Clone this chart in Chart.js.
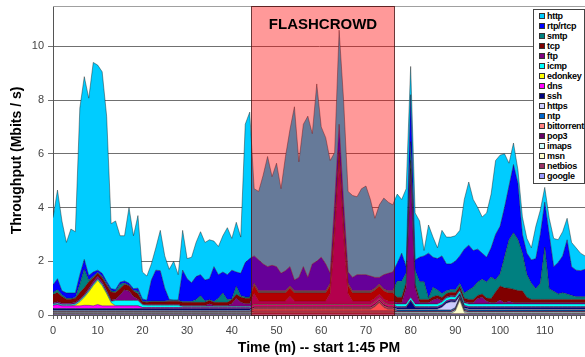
<!DOCTYPE html>
<html>
<head>
<meta charset="utf-8">
<title>Throughput by protocol</title>
<script src="https://cdn.jsdelivr.net/npm/chart.js@4.4.1/dist/chart.umd.min.js"></script>
<style>
  html, body { margin: 0; padding: 0; background: #fff; }
  #wrap { position: relative; width: 585px; height: 357px; overflow: hidden; }
  #legend {
    position: absolute; left: 533px; top: 9px; width: 50px;
    border: 1px solid #444; background: #fff; padding: 1px 0 2px 0;
    font: bold 9px "Liberation Sans", Arial, sans-serif; color: #000;
    letter-spacing: -0.3px;
  }
  #legend div { height: 10px; line-height: 10px; white-space: nowrap; padding-left: 5px; }
  #legend span {
    display: inline-block; width: 4px; height: 4px; border: 1px solid #333;
    margin-right: 2px; vertical-align: 0;
  }
</style>
</head>
<body>
<div id="wrap">
  <canvas id="chart" width="585" height="357"></canvas>
  <div id="legend"></div>
</div>
<script>
// minutes since 1:45 PM
const minutes = Array.from({ length: 120 }, (_, i) => i);
const xTickLabels = [0, 10, 20, 30, 40, 50, 60, 70, 80, 90, 100, 110];
const yTickLabels = [0, 2, 4, 6, 8, 10];
const flashcrowd = [44.4, 76.4];

const seriesNames = ['http', 'rtp/rtcp', 'smtp', 'tcp', 'ftp', 'icmp', 'edonkey', 'dns', 'ssh',
  'https', 'ntp', 'bittorrent', 'pop3', 'imaps', 'msn', 'netbios', 'google'];
const seriesColors = ['#00CCFF', '#0000FF', '#008080', '#800000', '#800080', '#00FFFF', '#FFFF00',
  '#FF00FF', '#000080', '#CCCCFF', '#0066CC', '#FF8080', '#660066', '#CCFFFF', '#FFFFCC', '#993366', '#9999FF'];

// Mbits/s per protocol, one value per minute
const http = [
  2.5, 3.3, 2.6, 1.88, 2.38, 2.28, 6.2, 6.8, 6.6, 7.8,
  7.63, 7.5, 6.15, 2.42, 2.55, 1.73, 1.68, 2.82, 1.97, 2.7,
  1.0, 0.9, 0.6, 0.83, 1.5, 1.2, 1.12, 1.44, 0.94, 1.48,
  0.75, 0.95, 1.27, 1.6, 1.4, 1.45, 0.95, 1.05, 1.35, 1.75,
  1.18, 1.85, 1.35, 5.15, 5.45, 2.5, 2.55, 3.3, 4.1, 3.3,
  3.85, 3.15, 4.25, 5.1, 6.45, 4.3, 5.3, 6.0, 4.85, 6.6,
  4.85, 4.7, 4.2, 1.85, 3.5, 3.8, 3.0, 3.05, 2.9, 3.2,
  3.3, 2.85, 2.2, 2.7, 2.85, 2.65, 2.5, 2.57, 2.0, 2.9,
  1.05, 1.75, 1.35, 0.2, 1.05, 0.75, 0.4, 0.95, 1.0, 1.0,
  0.95, 0.95, 1.85, 2.35, 1.9, 1.55, 1.35, 1.65, 2.0, 2.75,
  2.65, 2.0, 0.85, 0.8, 0.5, 0.65, 0.55, 0.45, 1.2, 0.9,
  0.55, 0.6, 1.05, 0.85, 0.9, 0.8, 0.9, 0.83, 0.65, 0.5
];
const rtp = [
  0.28, 0.41, 0.15, 0.2, 0.2, 0.17, 0.36, 0.36, 0.18, 0.16,
  0.08, 0.11, 0.08, 0.08, 0.07, 0.08, 0.08, 0.07, 0.07, 0.11,
  0.08, 0.05, 0.78, 1.15, 1.13, 0.48, 0.04, 0.02, 0.02, 1.17,
  0.85, 0.7, 0.86, 0.78, 0.78, 0.78, 1.3, 0.88, 0.78, 0.93,
  1.07, 0.53, 0.83, 1.28, 1.43, 1.02, 1.15, 1.0, 0.9, 0.95,
  0.9, 0.65, 0.75, 0.72, 0.4, 0.5, 0.9, 0.5, 1.0, 1.1,
  1.25, 1.0, 0.37, 0.82, 0.97, 0.82, 0.42, 0.5, 0.6, 0.6,
  0.6, 0.55, 0.4, 0.25, 0.53, 0.65, 0.7, 0.67, 1.04, 0.24,
  1.75, 0.39, 0.91, 0.96, 1.67, 1.12, 1.17, 1.4, 1.0, 0.95,
  1.06, 1.03, 1.63, 1.67, 1.37, 1.22, 0.97, 0.92, 1.09, 1.69,
  1.77, 1.84, 2.0, 2.54, 2.09, 0.7, 0.79, 0.87, 1.12, 1.82,
  1.67, 2.02, 0.92, 1.17, 1.37, 2.02, 1.07, 0.99, 0.97, 1.02
];
const smtp = [
  0.08, 0.1, 0.06, 0.03, 0.03, 0.03, 0.3, 0.7, 0.05, 0.05,
  0.03, 0.05, 0.05, 0.04, 0.04, 0.15, 0.05, 0.02, 0.02, 0.1,
  0.03, 0.03, 0.03, 0.03, 0.03, 0.03, 0.03, 0.03, 0.03, 0.03,
  0.03, 0.03, 0.1, 0.25, 0.05, 0.03, 0.03, 0.15, 0.35, 0.1,
  0.03, 0.3, 0.05, 0.05, 0.05, 0.08, 0.08, 0.08, 0.08, 0.08,
  0.08, 0.08, 0.08, 0.08, 0.08, 0.08, 0.08, 0.08, 0.08, 0.08,
  0.08, 0.08, 0.08, 0.08, 0.08, 0.08, 0.08, 0.08, 0.08, 0.08,
  0.08, 0.08, 0.08, 0.08, 0.08, 0.08, 0.08, 0.6, 0.6, 0.35,
  0.7, 0.5, 0.66, 0.66, 0.05, 0.35, 0.2, 0.15, 0.1, 0.1,
  0.1, 0.1, 0.2, 0.35, 0.45, 0.5, 0.55, 0.6, 0.8, 0.45,
  0.45, 1.15, 1.8, 2.1, 1.9, 1.4, 0.85, 0.6, 0.4, 0.6,
  1.95, 0.4, 0.3, 0.2, 0.25, 0.2, 0.15, 0.1, 0.1, 0.1
];
const tcp = [
  0.3, 0.35, 0.25, 0.15, 0.15, 0.15, 0.25, 0.25, 0.25, 0.15,
  0.12, 0.15, 0.2, 0.3, 0.25, 0.25, 0.2, 0.2, 0.2, 0.2,
  0.08, 0.08, 0.1, 0.1, 0.1, 0.1, 0.12, 0.12, 0.12, 0.12,
  0.12, 0.12, 0.12, 0.12, 0.12, 0.12, 0.12, 0.12, 0.12, 0.12,
  0.15, 0.15, 0.2, 0.2, 0.2, 0.3, 0.3, 0.3, 0.3, 0.3,
  0.3, 0.3, 0.3, 0.3, 0.3, 0.3, 0.3, 0.3, 0.3, 0.3,
  0.3, 0.3, 0.3, 0.3, 0.3, 0.3, 0.3, 0.3, 0.3, 0.3,
  0.3, 0.3, 0.3, 0.3, 0.3, 0.3, 0.3, 0.2, 0.2, 0.2,
  0.3, 0.15, 0.12, 0.12, 0.12, 0.12, 0.12, 0.12, 0.12, 0.12,
  0.12, 0.12, 0.12, 0.12, 0.12, 0.12, 0.12, 0.12, 0.15, 0.4,
  0.52, 0.55, 0.49, 0.5, 0.45, 0.44, 0.2, 0.12, 0.12, 0.12,
  0.12, 0.12, 0.12, 0.12, 0.12, 0.12, 0.12, 0.12, 0.12, 0.12
];
const ftp = [
  0.05, 0.05, 0.05, 0.05, 0.05, 0.05, 0.05, 0.05, 0.08, 0.1,
  0.1, 0.1, 0.08, 0.05, 0.05, 0.2, 0.4, 0.35, 0.15, 0.05,
  0.03, 0.03, 0.03, 0.03, 0.03, 0.03, 0.03, 0.03, 0.03, 0.03,
  0.03, 0.03, 0.03, 0.03, 0.03, 0.1, 0.03, 0.03, 0.03, 0.03,
  0.1, 0.3, 0.15, 0.1, 0.1, 0.4, 0.12, 0.12, 0.12, 0.12,
  0.12, 0.12, 0.12, 0.3, 0.12, 0.12, 0.12, 0.12, 0.12, 0.12,
  0.12, 0.12, 0.4, 2.6, 5.35, 2.6, 0.4, 0.12, 0.12, 0.12,
  0.12, 0.12, 0.12, 0.12, 0.12, 0.12, 0.12, 0.05, 0.05, 0.6,
  4.8, 0.6, 0.05, 0.05, 0.05, 0.15, 0.2, 0.05, 0.05, 0.05,
  0.05, 0.05, 0.05, 0.05, 0.05, 0.2, 0.25, 0.1, 0.05, 0.05,
  0.15, 0.05, 0.1, 0.05, 0.05, 0.05, 0.05, 0.05, 0.05, 0.05,
  0.05, 0.05, 0.05, 0.05, 0.05, 0.05, 0.05, 0.05, 0.05, 0.05
];
const icmp = [
  0.05, 0.05, 0.05, 0.05, 0.05, 0.05, 0.05, 0.05, 0.05, 0.05,
  0.05, 0.05, 0.05, 0.05, 0.2, 0.2, 0.2, 0.2, 0.2, 0.2,
  0.1, 0.08, 0.08, 0.08, 0.08, 0.08, 0.08, 0.08, 0.08, 0.04,
  0.04, 0.04, 0.04, 0.04, 0.04, 0.04, 0.04, 0.04, 0.04, 0.04,
  0.04, 0.04, 0.04, 0.04, 0.04, 0.03, 0.03, 0.03, 0.03, 0.03,
  0.03, 0.03, 0.03, 0.03, 0.03, 0.03, 0.03, 0.03, 0.03, 0.03,
  0.03, 0.03, 0.03, 0.03, 0.03, 0.03, 0.03, 0.03, 0.03, 0.03,
  0.03, 0.03, 0.03, 0.03, 0.03, 0.03, 0.03, 0.1, 0.1, 0.1,
  0.1, 0.1, 0.1, 0.1, 0.1, 0.1, 0.1, 0.1, 0.1, 0.1,
  0.1, 0.1, 0.1, 0.1, 0.1, 0.1, 0.1, 0.1, 0.1, 0.1,
  0.1, 0.1, 0.1, 0.1, 0.1, 0.1, 0.1, 0.1, 0.1, 0.1,
  0.1, 0.1, 0.1, 0.1, 0.1, 0.1, 0.1, 0.1, 0.1, 0.1
];
const edonkey = [
  0, 0, 0, 0, 0, 0.03, 0.15, 0.3, 0.5, 0.75,
  0.9, 0.75, 0.45, 0.12, 0, 0, 0, 0, 0, 0,
  0, 0, 0, 0, 0, 0, 0, 0, 0, 0,
  0, 0, 0, 0, 0, 0, 0, 0, 0, 0,
  0, 0, 0, 0, 0, 0, 0, 0, 0, 0,
  0, 0, 0, 0, 0, 0, 0, 0, 0, 0,
  0, 0, 0, 0, 0, 0, 0, 0, 0, 0,
  0, 0, 0, 0, 0, 0, 0, 0, 0, 0,
  0, 0, 0, 0, 0, 0, 0, 0, 0, 0,
  0, 0, 0, 0, 0, 0, 0, 0, 0, 0,
  0, 0, 0, 0, 0, 0, 0, 0, 0, 0,
  0, 0, 0, 0, 0, 0, 0, 0, 0, 0
];
const dns = [
  0.12, 0.15, 0.1, 0.1, 0.1, 0.1, 0.1, 0.12, 0.12, 0.1,
  0.15, 0.1, 0.1, 0.1, 0.1, 0.1, 0.1, 0.1, 0.1, 0.1,
  0.04, 0.04, 0.04, 0.04, 0.04, 0.04, 0.04, 0.04, 0.04, 0.04,
  0.04, 0.04, 0.04, 0.04, 0.04, 0.04, 0.04, 0.04, 0.04, 0.04,
  0.04, 0.04, 0.04, 0.04, 0.04, 0.05, 0.05, 0.05, 0.05, 0.05,
  0.05, 0.05, 0.05, 0.05, 0.05, 0.05, 0.05, 0.05, 0.05, 0.05,
  0.05, 0.05, 0.05, 0.05, 0.05, 0.05, 0.05, 0.05, 0.05, 0.05,
  0.05, 0.05, 0.05, 0.05, 0.05, 0.05, 0.05, 0.03, 0.03, 0.03,
  0.03, 0.03, 0.03, 0.03, 0.03, 0.03, 0.03, 0.03, 0.03, 0.03,
  0.03, 0.03, 0.03, 0.03, 0.03, 0.03, 0.03, 0.03, 0.03, 0.03,
  0.03, 0.03, 0.03, 0.03, 0.03, 0.03, 0.03, 0.03, 0.03, 0.03,
  0.03, 0.03, 0.03, 0.03, 0.03, 0.03, 0.03, 0.03, 0.03, 0.03
];
const ssh = [
  0.05, 0.05, 0.05, 0.05, 0.05, 0.05, 0.05, 0.05, 0.05, 0.05,
  0.05, 0.05, 0.05, 0.05, 0.05, 0.05, 0.05, 0.05, 0.05, 0.05,
  0.05, 0.05, 0.05, 0.05, 0.05, 0.05, 0.05, 0.05, 0.05, 0.05,
  0.05, 0.05, 0.05, 0.05, 0.05, 0.05, 0.05, 0.05, 0.05, 0.05,
  0.05, 0.05, 0.05, 0.05, 0.05, 0.05, 0.05, 0.05, 0.05, 0.05,
  0.05, 0.05, 0.05, 0.05, 0.05, 0.05, 0.05, 0.05, 0.05, 0.05,
  0.05, 0.05, 0.05, 0.05, 0.05, 0.05, 0.05, 0.05, 0.05, 0.05,
  0.05, 0.05, 0.05, 0.05, 0.05, 0.05, 0.05, 0.06, 0.06, 0.06,
  0.3, 0.06, 0.06, 0.06, 0.06, 0.06, 0.06, 0.06, 0.06, 0.06,
  0.06, 0.06, 0.06, 0.06, 0.06, 0.06, 0.06, 0.06, 0.06, 0.06,
  0.06, 0.06, 0.06, 0.06, 0.06, 0.06, 0.06, 0.06, 0.06, 0.06,
  0.06, 0.06, 0.06, 0.06, 0.06, 0.06, 0.06, 0.06, 0.06, 0.06
];
const https = [
  0.03, 0.03, 0.03, 0.03, 0.03, 0.03, 0.03, 0.03, 0.03, 0.03,
  0.03, 0.03, 0.03, 0.03, 0.03, 0.03, 0.03, 0.03, 0.03, 0.03,
  0.03, 0.03, 0.03, 0.03, 0.03, 0.03, 0.03, 0.03, 0.03, 0.03,
  0.03, 0.03, 0.03, 0.03, 0.03, 0.03, 0.03, 0.03, 0.03, 0.03,
  0.03, 0.03, 0.03, 0.03, 0.03, 0.03, 0.03, 0.03, 0.03, 0.03,
  0.03, 0.03, 0.03, 0.03, 0.03, 0.03, 0.03, 0.03, 0.03, 0.03,
  0.03, 0.03, 0.03, 0.03, 0.03, 0.03, 0.03, 0.03, 0.03, 0.03,
  0.03, 0.03, 0.03, 0.03, 0.03, 0.03, 0.03, 0.03, 0.03, 0.03,
  0.03, 0.03, 0.03, 0.03, 0.03, 0.03, 0.03, 0.1, 0.25, 0.3,
  0.2, 0.03, 0.03, 0.03, 0.03, 0.03, 0.03, 0.03, 0.03, 0.03,
  0.03, 0.03, 0.03, 0.03, 0.03, 0.03, 0.03, 0.03, 0.03, 0.03,
  0.03, 0.03, 0.03, 0.03, 0.03, 0.03, 0.03, 0.03, 0.03, 0.03
];
const ntp = [
  0.03, 0.03, 0.03, 0.03, 0.03, 0.03, 0.03, 0.03, 0.03, 0.03,
  0.03, 0.03, 0.03, 0.03, 0.03, 0.03, 0.03, 0.03, 0.03, 0.03,
  0.03, 0.03, 0.03, 0.03, 0.03, 0.03, 0.03, 0.03, 0.03, 0.03,
  0.03, 0.03, 0.03, 0.03, 0.03, 0.03, 0.03, 0.03, 0.03, 0.03,
  0.03, 0.03, 0.03, 0.03, 0.03, 0.03, 0.03, 0.03, 0.03, 0.03,
  0.03, 0.03, 0.03, 0.03, 0.03, 0.03, 0.03, 0.03, 0.03, 0.03,
  0.03, 0.03, 0.03, 0.03, 0.03, 0.03, 0.03, 0.03, 0.03, 0.03,
  0.03, 0.03, 0.03, 0.03, 0.03, 0.03, 0.03, 0.04, 0.04, 0.04,
  0.04, 0.04, 0.04, 0.04, 0.04, 0.04, 0.04, 0.04, 0.04, 0.04,
  0.04, 0.04, 0.04, 0.04, 0.04, 0.04, 0.04, 0.04, 0.04, 0.04,
  0.04, 0.04, 0.04, 0.04, 0.04, 0.04, 0.04, 0.04, 0.04, 0.04,
  0.04, 0.04, 0.04, 0.04, 0.04, 0.04, 0.04, 0.04, 0.04, 0.04
];
const bittorrent = [
  0.02, 0.02, 0.02, 0.02, 0.02, 0.02, 0.02, 0.02, 0.02, 0.02,
  0.02, 0.02, 0.02, 0.02, 0.02, 0.02, 0.02, 0.02, 0.02, 0.02,
  0.02, 0.02, 0.02, 0.02, 0.02, 0.02, 0.02, 0.02, 0.02, 0.02,
  0.02, 0.02, 0.02, 0.02, 0.02, 0.02, 0.02, 0.02, 0.02, 0.02,
  0.02, 0.02, 0.02, 0.02, 0.02, 0.05, 0.05, 0.05, 0.05, 0.05,
  0.05, 0.05, 0.05, 0.05, 0.05, 0.05, 0.05, 0.05, 0.05, 0.05,
  0.05, 0.05, 0.05, 0.05, 0.05, 0.05, 0.05, 0.05, 0.05, 0.05,
  0.05, 0.05, 0.15, 0.3, 0.12, 0.05, 0.05, 0.02, 0.02, 0.02,
  0.02, 0.02, 0.02, 0.02, 0.02, 0.02, 0.02, 0.02, 0.02, 0.02,
  0.02, 0.02, 0.02, 0.02, 0.02, 0.02, 0.02, 0.02, 0.02, 0.02,
  0.02, 0.02, 0.02, 0.02, 0.02, 0.02, 0.02, 0.02, 0.02, 0.02,
  0.02, 0.02, 0.02, 0.02, 0.02, 0.02, 0.02, 0.02, 0.02, 0.02
];
const pop3 = [
  0.02, 0.02, 0.02, 0.02, 0.02, 0.02, 0.02, 0.02, 0.02, 0.02,
  0.02, 0.02, 0.02, 0.02, 0.02, 0.02, 0.02, 0.02, 0.02, 0.02,
  0.02, 0.02, 0.02, 0.02, 0.02, 0.02, 0.02, 0.02, 0.02, 0.02,
  0.02, 0.02, 0.02, 0.02, 0.02, 0.02, 0.02, 0.02, 0.02, 0.02,
  0.02, 0.02, 0.02, 0.02, 0.02, 0.04, 0.04, 0.04, 0.04, 0.04,
  0.04, 0.04, 0.04, 0.04, 0.04, 0.04, 0.04, 0.04, 0.04, 0.04,
  0.04, 0.04, 0.04, 0.04, 0.04, 0.04, 0.04, 0.04, 0.04, 0.04,
  0.04, 0.04, 0.04, 0.04, 0.04, 0.04, 0.04, 0.03, 0.03, 0.03,
  0.03, 0.03, 0.03, 0.03, 0.03, 0.03, 0.03, 0.03, 0.03, 0.03,
  0.03, 0.03, 0.03, 0.03, 0.03, 0.03, 0.03, 0.03, 0.03, 0.03,
  0.03, 0.03, 0.03, 0.03, 0.03, 0.03, 0.03, 0.03, 0.03, 0.03,
  0.03, 0.03, 0.03, 0.03, 0.03, 0.03, 0.03, 0.03, 0.03, 0.03
];
const imaps = [
  0.03, 0.03, 0.03, 0.03, 0.03, 0.03, 0.03, 0.03, 0.03, 0.03,
  0.03, 0.03, 0.03, 0.03, 0.03, 0.03, 0.03, 0.03, 0.03, 0.03,
  0.03, 0.03, 0.03, 0.03, 0.03, 0.03, 0.03, 0.03, 0.03, 0.03,
  0.03, 0.03, 0.03, 0.03, 0.03, 0.03, 0.03, 0.03, 0.03, 0.03,
  0.03, 0.03, 0.03, 0.03, 0.03, 0.03, 0.03, 0.03, 0.03, 0.03,
  0.03, 0.03, 0.03, 0.03, 0.03, 0.03, 0.03, 0.03, 0.03, 0.03,
  0.03, 0.03, 0.03, 0.03, 0.03, 0.03, 0.03, 0.03, 0.03, 0.03,
  0.03, 0.03, 0.03, 0.03, 0.03, 0.03, 0.03, 0.04, 0.04, 0.04,
  0.04, 0.04, 0.04, 0.04, 0.04, 0.04, 0.04, 0.04, 0.04, 0.04,
  0.04, 0.04, 0.04, 0.04, 0.04, 0.04, 0.04, 0.04, 0.04, 0.04,
  0.04, 0.04, 0.04, 0.04, 0.04, 0.04, 0.04, 0.04, 0.04, 0.04,
  0.04, 0.04, 0.04, 0.04, 0.04, 0.04, 0.04, 0.04, 0.04, 0.04
];
const msn = [
  0.01, 0.01, 0.01, 0.01, 0.01, 0.01, 0.01, 0.01, 0.01, 0.01,
  0.01, 0.01, 0.01, 0.01, 0.01, 0.01, 0.01, 0.01, 0.01, 0.01,
  0.01, 0.01, 0.01, 0.01, 0.01, 0.01, 0.01, 0.01, 0.01, 0.01,
  0.01, 0.01, 0.01, 0.01, 0.01, 0.01, 0.01, 0.01, 0.01, 0.01,
  0.01, 0.01, 0.01, 0.01, 0.01, 0.01, 0.01, 0.01, 0.01, 0.01,
  0.01, 0.01, 0.01, 0.01, 0.01, 0.01, 0.01, 0.01, 0.01, 0.01,
  0.01, 0.01, 0.01, 0.01, 0.01, 0.01, 0.01, 0.01, 0.01, 0.01,
  0.01, 0.01, 0.01, 0.01, 0.01, 0.01, 0.01, 0.01, 0.01, 0.01,
  0.01, 0.01, 0.01, 0.01, 0.01, 0.01, 0.01, 0.01, 0.01, 0.01,
  0.1, 0.5, 0.05, 0.01, 0.01, 0.01, 0.01, 0.01, 0.01, 0.01,
  0.01, 0.01, 0.01, 0.01, 0.01, 0.01, 0.01, 0.01, 0.01, 0.01,
  0.01, 0.01, 0.01, 0.01, 0.01, 0.01, 0.01, 0.01, 0.01, 0.01
];
const netbios = [
  0.03, 0.03, 0.03, 0.03, 0.03, 0.03, 0.03, 0.03, 0.03, 0.03,
  0.03, 0.03, 0.03, 0.03, 0.03, 0.03, 0.03, 0.03, 0.03, 0.03,
  0.03, 0.03, 0.03, 0.03, 0.03, 0.03, 0.03, 0.03, 0.03, 0.03,
  0.03, 0.03, 0.03, 0.03, 0.03, 0.03, 0.03, 0.03, 0.03, 0.03,
  0.03, 0.03, 0.03, 0.03, 0.03, 0.05, 0.05, 0.05, 0.05, 0.05,
  0.05, 0.05, 0.05, 0.05, 0.05, 0.05, 0.05, 0.05, 0.05, 0.05,
  0.05, 0.05, 0.05, 0.05, 0.05, 0.05, 0.05, 0.05, 0.05, 0.05,
  0.05, 0.05, 0.05, 0.05, 0.05, 0.05, 0.05, 0.03, 0.03, 0.03,
  0.03, 0.03, 0.03, 0.03, 0.03, 0.03, 0.03, 0.03, 0.03, 0.03,
  0.03, 0.03, 0.03, 0.03, 0.03, 0.03, 0.03, 0.03, 0.03, 0.03,
  0.03, 0.03, 0.03, 0.03, 0.03, 0.03, 0.03, 0.03, 0.03, 0.03,
  0.03, 0.03, 0.03, 0.03, 0.03, 0.03, 0.03, 0.03, 0.03, 0.03
];
const google = [
  0.02, 0.02, 0.02, 0.02, 0.02, 0.02, 0.02, 0.02, 0.02, 0.02,
  0.02, 0.02, 0.02, 0.02, 0.02, 0.02, 0.02, 0.02, 0.02, 0.02,
  0.02, 0.02, 0.02, 0.02, 0.02, 0.02, 0.02, 0.02, 0.02, 0.02,
  0.02, 0.02, 0.02, 0.02, 0.02, 0.02, 0.02, 0.02, 0.02, 0.02,
  0.02, 0.02, 0.02, 0.02, 0.02, 0.03, 0.03, 0.03, 0.03, 0.03,
  0.03, 0.03, 0.03, 0.03, 0.03, 0.03, 0.03, 0.03, 0.03, 0.03,
  0.03, 0.03, 0.03, 0.03, 0.03, 0.03, 0.03, 0.03, 0.03, 0.03,
  0.03, 0.03, 0.03, 0.03, 0.03, 0.03, 0.03, 0.02, 0.02, 0.02,
  0.02, 0.02, 0.02, 0.02, 0.02, 0.02, 0.02, 0.02, 0.02, 0.02,
  0.02, 0.02, 0.02, 0.02, 0.02, 0.02, 0.02, 0.02, 0.02, 0.02,
  0.02, 0.02, 0.02, 0.02, 0.02, 0.02, 0.02, 0.02, 0.02, 0.02,
  0.02, 0.02, 0.02, 0.02, 0.02, 0.02, 0.02, 0.02, 0.02, 0.02
];

const seriesValues = [http, rtp, smtp, tcp, ftp, icmp, edonkey, dns, ssh,
  https, ntp, bittorrent, pop3, imaps, msn, netbios, google];

const FONT = '"Liberation Sans", Arial, sans-serif';

// Excel stacks the first legend entry on top, so build the stack from the bottom up
const stack = seriesNames.map((name, k) => ({ name, color: seriesColors[k], values: seriesValues[k] })).reverse();

const datasets = stack.map((s, k) => ({
    label: s.name,
    data: s.values,
    backgroundColor: s.color,
    borderColor: 'rgba(20,20,20,0.6)',
    borderWidth: 0.7,
    fill: k === 0 ? 'origin' : '-1',
    pointRadius: 0,
    tension: 0
}));

const frame = {
    id: 'frame',
    beforeDatasetsDraw(chart) {
        const {ctx, chartArea} = chart;
        ctx.save();
        ctx.strokeStyle = '#a0a0a0';
        ctx.lineWidth = 1;
        ctx.beginPath();
        ctx.moveTo(chartArea.left, chartArea.top + 0.5);
        ctx.lineTo(chartArea.right, chartArea.top + 0.5);
        ctx.stroke();
        ctx.restore();
    }
};

const flashBox = {
    id: 'flashBox',
    afterDatasetsDraw(chart) {
        const {ctx, chartArea, scales: {x}} = chart;
        const left = x.getPixelForValue(flashcrowd[0]);
        const right = x.getPixelForValue(flashcrowd[1]);
        const h = chartArea.bottom - chartArea.top;
        ctx.save();
        ctx.fillStyle = 'rgba(255,0,0,0.4)';
        ctx.fillRect(left, chartArea.top, right - left, h);
        ctx.strokeStyle = 'rgba(70,20,20,0.8)';
        ctx.lineWidth = 1;
        ctx.strokeRect(Math.round(left) + 0.5, chartArea.top + 0.5, Math.round(right - left), h);
        ctx.fillStyle = '#000';
        ctx.font = 'bold 15px ' + FONT;
        ctx.textAlign = 'center';
        ctx.textBaseline = 'middle';
        ctx.fillText('FLASHCROWD', (left + right) / 2, chartArea.top + 19);
        ctx.restore();
    }
};

new Chart(document.getElementById('chart'), {
    type: 'line',
    data: { labels: minutes, datasets },
    plugins: [frame, flashBox],
    options: {
        responsive: false,
        animation: false,
        layout: { padding: { top: 6, left: 0, right: 0, bottom: 0 } },
        plugins: {
            legend: { display: false },
            tooltip: { enabled: false }
        },
        scales: {
            x: {
                type: 'linear',
                min: 0,
                max: 119,
                afterBuildTicks: scale => { scale.ticks = minutes.map(v => ({ value: v })); },
                afterFit: scale => {
                    scale.height = 42;
                    scale.paddingLeft = 0;
                    scale.paddingRight = 0;
                },
                ticks: {
                    autoSkip: false,
                    maxRotation: 0,
                    padding: 5,
                    color: '#444',
                    font: { family: FONT, size: 11 },
                    callback: v => xTickLabels.includes(v) ? String(v) : ''
                },
                grid: { drawOnChartArea: false, drawTicks: true, tickLength: 4, color: '#666' },
                border: { color: '#555' },
                title: {
                    display: true,
                    text: 'Time (m) -- start 1:45 PM',
                    color: '#000',
                    font: { family: FONT, size: 14, weight: 'bold' },
                    padding: { top: 0, bottom: 0 }
                }
            },
            y: {
                stacked: true,
                min: 0,
                max: 11.5,
                afterBuildTicks: scale => { scale.ticks = yTickLabels.map(v => ({ value: v })); },
                afterFit: scale => {
                    scale.width = 53;
                    scale.paddingTop = 0;
                    scale.paddingBottom = 0;
                },
                ticks: {
                    padding: 4,
                    color: '#444',
                    font: { family: FONT, size: 11 }
                },
                grid: { color: '#707070', tickLength: 5 },
                border: { color: '#555' },
                title: {
                    display: true,
                    text: 'Throughput (Mbits / s)',
                    color: '#000',
                    font: { family: FONT, size: 14, weight: 'bold' },
                    padding: { top: 9, bottom: 0 }
                }
            }
        }
    }
});

// legend box sits inside the plot, top right, like the original
const legendEl = document.getElementById('legend');
seriesNames.forEach((name, k) => {
    const row = document.createElement('div');
    const box = document.createElement('span');
    box.style.background = seriesColors[k];
    row.appendChild(box);
    row.appendChild(document.createTextNode(name));
    legendEl.appendChild(row);
});
</script>
</body>
</html>
